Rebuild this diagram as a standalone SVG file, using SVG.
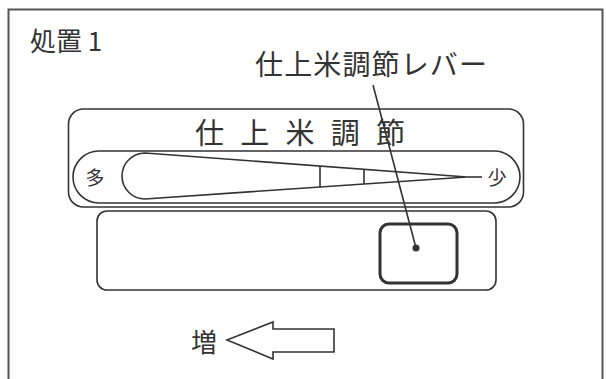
<svg xmlns="http://www.w3.org/2000/svg" width="606" height="379" viewBox="0 0 606 379">
<style>
.ln{fill:none;stroke:#333;stroke-width:1.6}
.t{font-family:"Noto Sans CJK JP","Noto Sans",sans-serif;fill:#333}
</style>
<rect width="606" height="379" fill="#fff"/>
<g id="frame"><rect x="8.5" y="9.5" width="594" height="420" fill="none" stroke="#555" stroke-width="2"/></g>
<g id="title"><text class="t" x="30" y="51" font-size="26">処置 1</text></g>
<g id="lever-label"><text class="t" x="255" y="75" font-size="28" textLength="232" lengthAdjust="spacing">仕上米調節レバー</text></g>
<g id="dial">
<rect class="ln" x="68.5" y="109" width="455" height="98" rx="15"/>
<text class="t" x="195" y="144" font-size="29" textLength="210" lengthAdjust="spacing">仕上米調節</text>
<rect class="ln" x="73" y="151" width="447" height="52" rx="26"/>
<path class="ln" d="M145,153 L467,177 L145,199 A23,23 0 0 1 145,153 Z" stroke-width="1.4"/>
<line class="ln" x1="467" y1="177" x2="482" y2="177" stroke-width="1.4"/>
<line class="ln" x1="320" y1="166" x2="320" y2="187" stroke-width="1.4"/>
<line class="ln" x1="364" y1="169" x2="364" y2="184" stroke-width="1.4"/>
<text class="t" x="95" y="185" font-size="19" text-anchor="middle">多</text>
<text class="t" x="497" y="185" font-size="19" text-anchor="middle">少</text>
</g>
<g id="lever-panel">
<rect class="ln" x="97" y="211" width="399" height="79" rx="10"/>
<rect x="380" y="224" width="77" height="59" rx="9" fill="none" stroke="#333" stroke-width="3"/>
</g>
<g id="increase">
<text class="t" x="204" y="352" font-size="26" text-anchor="middle">増</text>
<polygon class="ln" points="227,340 273,322 273,329 334,329 334,352 273,352 273,359" stroke-width="1.4"/>
</g>
<g id="connectors">
<line class="ln" x1="373" y1="85" x2="416" y2="248" stroke-width="1.4"/>
<circle cx="416" cy="248" r="3.5" fill="#333"/>
</g>
</svg>
